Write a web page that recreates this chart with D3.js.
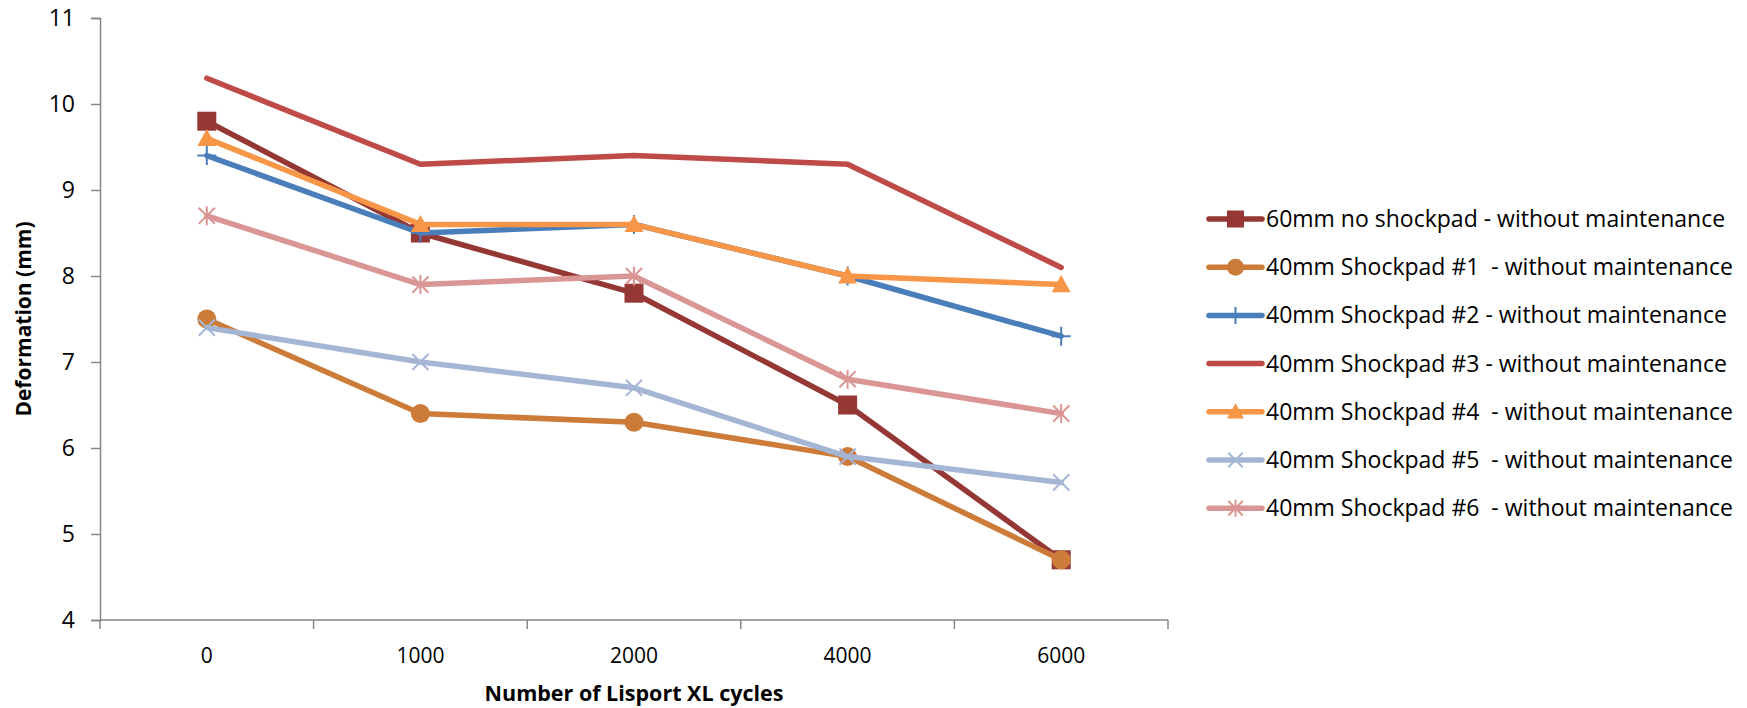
<!DOCTYPE html>
<html>
<head>
<meta charset="utf-8">
<script src="https://cdn.jsdelivr.net/npm/d3@7"></script>
<style>
  html, body { margin: 0; padding: 0; background: #fff; }
  svg { display: block; }
  text { font-family: "Open Sans", "Liberation Sans", sans-serif; fill: #000; }
  .legend text { white-space: pre; }
</style>
</head>
<body>
<svg id="chart" width="1747" height="708"></svg>
<script>
// Cycle counts on the horizontal axis
const cycles = ["0", "1000", "2000", "4000", "6000"];

// Deformation (mm) per series, one value per cycle count
const noShockpad60 = [9.8, 8.5, 7.8, 6.5, 4.7];
const shockpad1 = [7.5, 6.4, 6.3, 5.9, 4.7];
const shockpad2 = [9.4, 8.5, 8.6, 8.0, 7.3];
const shockpad3 = [10.3, 9.3, 9.4, 9.3, 8.1];
const shockpad4 = [9.6, 8.6, 8.6, 8.0, 7.9];
const shockpad5 = [7.4, 7.0, 6.7, 5.9, 5.6];
const shockpad6 = [8.7, 7.9, 8.0, 6.8, 6.4];

const seriesNames = [
  "60mm no shockpad - without maintenance",
  "40mm Shockpad #1  - without maintenance",
  "40mm Shockpad #2 - without maintenance",
  "40mm Shockpad #3 - without maintenance",
  "40mm Shockpad #4  - without maintenance",
  "40mm Shockpad #5  - without maintenance",
  "40mm Shockpad #6  - without maintenance"
];

const yTicks = [4, 5, 6, 7, 8, 9, 10, 11];

const series = [
  { name: seriesNames[0], values: noShockpad60, color: "#953735", marker: "square" },
  { name: seriesNames[1], values: shockpad1, color: "#cc7b38", marker: "circle" },
  { name: seriesNames[2], values: shockpad2, color: "#4a7ebb", marker: "plus" },
  { name: seriesNames[3], values: shockpad3, color: "#be4b48", marker: "none" },
  { name: seriesNames[4], values: shockpad4, color: "#f79646", marker: "triangle" },
  { name: seriesNames[5], values: shockpad5, color: "#a5b6d5", marker: "x" },
  { name: seriesNames[6], values: shockpad6, color: "#d99694", marker: "star" }
];

const svg = d3.select("#chart");
const plot = { left: 100, right: 1168, top: 18, bottom: 620 };
const axisColor = "#868686";

const x = d3.scaleBand().domain(cycles).range([plot.left, plot.right]).padding(0);
const y = d3.scaleLinear().domain([4, 11]).range([plot.bottom, plot.top]);
const cx = c => x(c) + x.bandwidth() / 2;

// Y axis
const yAxis = d3.axisLeft(y).tickValues(yTicks).tickSize(9).tickPadding(16).tickFormat(d3.format("d"));
const yg = svg.append("g").attr("transform", `translate(${plot.left},0)`).call(yAxis);
yg.select(".domain").attr("stroke", axisColor).attr("stroke-width", 1.5);
yg.selectAll(".tick line").attr("stroke", axisColor).attr("stroke-width", 1.5);
yg.selectAll(".tick text").attr("font-size", 23).attr("font-family", "'Open Sans', sans-serif").attr("fill", "#000");

// X axis: ticks on category boundaries, labels centred in each category
const xg = svg.append("g").attr("transform", `translate(0,${plot.bottom})`);
xg.append("line").attr("x1", plot.left).attr("x2", plot.right)
  .attr("stroke", axisColor).attr("stroke-width", 1.5);
const boundaries = cycles.map(c => x(c)).concat([plot.right]);
xg.selectAll("line.tk").data(boundaries).join("line").attr("class", "tk")
  .attr("x1", d => d).attr("x2", d => d).attr("y1", 0).attr("y2", 9)
  .attr("stroke", axisColor).attr("stroke-width", 1.5);
xg.selectAll("text").data(cycles).join("text")
  .attr("x", d => cx(d)).attr("y", 43)
  .attr("text-anchor", "middle").attr("font-size", 21).text(d => d);

// Axis titles
svg.append("text")
  .attr("transform", `translate(31,${(plot.top + plot.bottom) / 2}) rotate(-90)`)
  .attr("text-anchor", "middle").attr("font-size", 21).attr("font-weight", "bold")
  .text("Deformation (mm)");
svg.append("text")
  .attr("x", 634).attr("y", 701)
  .attr("text-anchor", "middle").attr("font-size", 21.5).attr("font-weight", "bold")
  .text("Number of Lisport XL cycles");

// Marker drawing
function drawMarker(g, type, color, px, py, s) {
  const h = s / 2;
  if (type === "square") {
    g.append("rect").attr("x", px - h).attr("y", py - h).attr("width", s).attr("height", s)
      .attr("fill", color);
  } else if (type === "circle") {
    g.append("circle").attr("cx", px).attr("cy", py).attr("r", h).attr("fill", color);
  } else if (type === "triangle") {
    g.append("path").attr("d", `M${px},${py - h}L${px + h},${py + h * 0.8}L${px - h},${py + h * 0.8}Z`)
      .attr("fill", color);
  } else if (type === "plus") {
    g.append("path").attr("d", `M${px - h},${py}H${px + h}M${px},${py - h}V${py + h}`)
      .attr("stroke", color).attr("stroke-width", 2);
  } else if (type === "x") {
    const d = h * 0.85;
    g.append("path").attr("d", `M${px - d},${py - d}L${px + d},${py + d}M${px - d},${py + d}L${px + d},${py - d}`)
      .attr("stroke", color).attr("stroke-width", 2);
  } else if (type === "star") {
    const d = h * 0.85;
    g.append("path").attr("d", `M${px - d},${py - d}L${px + d},${py + d}M${px - d},${py + d}L${px + d},${py - d}M${px},${py - h}V${py + h}`)
      .attr("stroke", color).attr("stroke-width", 2);
  }
}

// Series lines and markers
const line = d3.line().x((d, i) => cx(cycles[i])).y(d => y(d));
series.forEach(s => {
  const g = svg.append("g");
  g.append("path").datum(s.values).attr("d", line)
    .attr("fill", "none").attr("stroke", s.color).attr("stroke-width", 5.5)
    .attr("stroke-linejoin", "round").attr("stroke-linecap", "round");
  s.values.forEach((v, i) => drawMarker(g, s.marker, s.color, cx(cycles[i]), y(v), 19));
});

// Legend
const legend = svg.append("g").attr("class", "legend").attr("transform", "translate(1209,219)");
series.forEach((s, i) => {
  const g = legend.append("g").attr("transform", `translate(0,${i * 48.2})`);
  g.append("line").attr("x1", 0).attr("x2", 53).attr("y1", 0).attr("y2", 0)
    .attr("stroke", s.color).attr("stroke-width", 5.5).attr("stroke-linecap", "round");
  drawMarker(g, s.marker, s.color, 26.5, 0, 17);
  g.append("text").attr("x", 57).attr("y", 0).attr("dy", "0.35em")
    .attr("font-size", 23).text(s.name);
});
</script>
</body>
</html>
